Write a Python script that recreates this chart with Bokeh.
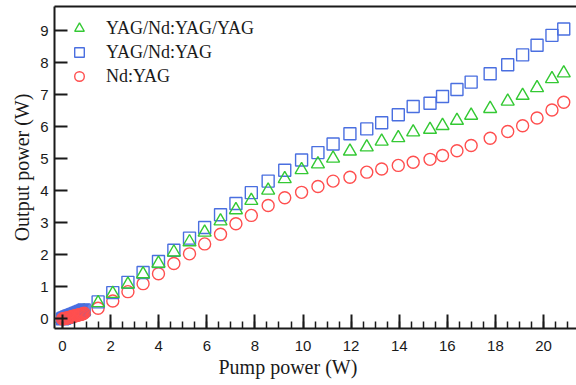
from bokeh.plotting import figure
from bokeh.models import (Range1d, FixedTicker, LinearAxis, Legend, LegendItem, Title)
from bokeh.embed import file_html
from bokeh.resources import INLINE

# Pump power (W) for the main points (shared by the three series)
pump = [1.48, 2.09, 2.72, 3.35, 3.99, 4.63, 5.28, 5.91, 6.57, 7.21, 7.85, 8.55,
        9.24, 9.94, 10.62, 11.25, 11.95, 12.65, 13.27, 13.96, 14.58, 15.28,
        15.80, 16.40, 16.99, 17.78, 18.51, 19.13, 19.73, 20.35, 20.84]

yag_nd_yag = [0.53, 0.82, 1.14, 1.45, 1.79, 2.14, 2.52, 2.85, 3.25, 3.60, 3.94, 4.30,
              4.64, 4.96, 5.19, 5.46, 5.78, 5.93, 6.12, 6.37, 6.63, 6.73,
              6.94, 7.16, 7.39, 7.65, 7.93, 8.24, 8.54, 8.85, 9.05]

yag_nd_yag_yag = [0.50, 0.79, 1.08, 1.40, 1.73, 2.08, 2.40, 2.70, 3.05, 3.40, 3.69, 4.01,
                  4.37, 4.65, 4.83, 5.01, 5.23, 5.36, 5.54, 5.65, 5.83, 5.91,
                  6.03, 6.19, 6.35, 6.56, 6.79, 6.97, 7.21, 7.49, 7.67]

nd_yag = [0.33, 0.56, 0.85, 1.10, 1.41, 1.73, 2.03, 2.34, 2.64, 2.97, 3.23, 3.54,
          3.78, 3.95, 4.13, 4.30, 4.42, 4.58, 4.68, 4.79, 4.89, 4.98,
          5.10, 5.25, 5.41, 5.64, 5.85, 6.03, 6.27, 6.52, 6.76]

# Dense low-power cluster near threshold
pump_low = [0.00, 0.05, 0.10, 0.15, 0.20, 0.25, 0.30, 0.35, 0.40, 0.45, 0.50,
            0.55, 0.60, 0.65, 0.70, 0.75, 0.80, 0.85, 0.90]
low_yag_nd_yag = [0.00, 0.02, 0.03, 0.05, 0.06, 0.08, 0.09, 0.11, 0.12, 0.14, 0.15,
                  0.17, 0.18, 0.20, 0.21, 0.23, 0.24, 0.26, 0.28]
low_yag_nd_yag_yag = [0.00, 0.01, 0.02, 0.03, 0.05, 0.06, 0.07, 0.09, 0.10, 0.11, 0.13,
                      0.14, 0.15, 0.17, 0.18, 0.20, 0.21, 0.23, 0.24]
low_nd_yag = [0.00, 0.01, 0.01, 0.02, 0.03, 0.04, 0.05, 0.06, 0.07, 0.08, 0.09,
              0.10, 0.11, 0.12, 0.13, 0.14, 0.15, 0.16, 0.18]

x_ticks = [0, 2, 4, 6, 8, 10, 12, 14, 16, 18, 20]
y_ticks = [0, 1, 2, 3, 4, 5, 6, 7, 8, 9]

GREEN = "#34c934"
BLUE = "#4a6fe0"
RED = "#ff4f4f"
AX = "#1a1a1a"

p = figure(width=576, height=385, output_backend="svg", toolbar_location=None,
           x_range=Range1d(-0.333, 21.37), y_range=Range1d(-0.30, 9.75),
           min_border_left=54, min_border_right=0, min_border_top=6, min_border_bottom=57,
           x_axis_type=None, y_axis_type=None)
p.outline_line_color = None
p.grid.visible = False
p.background_fill_color = "white"
p.border_fill_color = "white"

xaxis = LinearAxis(ticker=FixedTicker(ticks=x_ticks,
                                      minor_ticks=[i * 0.5 for i in range(0, 43)]))
xaxis.axis_line_width = 2
xaxis.axis_line_color = AX
xaxis.major_tick_in = 14
xaxis.major_tick_out = 0
xaxis.minor_tick_in = 7
xaxis.minor_tick_out = 0
xaxis.major_tick_line_width = 2
xaxis.minor_tick_line_width = 1.5
xaxis.major_tick_line_color = AX
xaxis.minor_tick_line_color = AX
xaxis.major_label_text_font = "Liberation Sans"
xaxis.major_label_text_font_size = "15px"
xaxis.major_label_text_color = AX
xaxis.major_label_standoff = 12
p.add_layout(xaxis, "below")

yaxis = LinearAxis(ticker=FixedTicker(ticks=y_ticks))
yaxis.axis_line_width = 2
yaxis.axis_line_color = AX
yaxis.major_tick_in = 13
yaxis.major_tick_out = 0
yaxis.minor_tick_in = 0
yaxis.minor_tick_out = 0
yaxis.major_tick_line_width = 2
yaxis.major_tick_line_color = AX
yaxis.major_label_text_font = "Liberation Sans"
yaxis.major_label_text_font_size = "15px"
yaxis.major_label_text_color = AX
yaxis.major_label_standoff = 6
yaxis.axis_label = "Output power (W)"
yaxis.axis_label_text_font = "Liberation Serif"
yaxis.axis_label_text_font_style = "normal"
yaxis.axis_label_text_font_size = "20px"
yaxis.axis_label_text_color = AX
yaxis.axis_label_standoff = 4
p.add_layout(yaxis, "left")

top = LinearAxis(ticker=FixedTicker(ticks=[]))
top.axis_line_width = 2
top.axis_line_color = AX
top.major_tick_in = 0
top.major_tick_out = 0
top.minor_tick_in = 0
top.minor_tick_out = 0
top.major_label_text_font_size = "0px"
p.add_layout(top, "above")

xt = Title(text="Pump power (W)", align="left", offset=164, standoff=0,
           text_font="Liberation Serif", text_font_size="20px",
           text_font_style="normal", text_color=AX)
p.add_layout(xt, "below")

# low-power cluster (drawn first, red on top as in the reference)
p.scatter(pump_low, low_yag_nd_yag_yag, marker="triangle", size=13, fill_color=None,
          line_color=GREEN, line_width=1.4)
p.scatter(pump_low, low_yag_nd_yag, marker="square", size=12, fill_color=None,
          line_color=BLUE, line_width=1.4)
p.scatter(pump_low, low_nd_yag, marker="circle", size=12, fill_color=None,
          line_color=RED, line_width=1.4)

r_ci = p.scatter(pump, nd_yag, marker="circle", size=12, fill_color=None,
                 line_color=RED, line_width=1.4)
r_sq = p.scatter(pump, yag_nd_yag, marker="square", size=12, fill_color=None,
                 line_color=BLUE, line_width=1.4)
r_tr = p.scatter(pump, yag_nd_yag_yag, marker="triangle", size=13, fill_color=None,
                 line_color=GREEN, line_width=1.4)

legend = Legend(items=[LegendItem(label="YAG/Nd:YAG/YAG", renderers=[r_tr]),
                       LegendItem(label="YAG/Nd:YAG", renderers=[r_sq]),
                       LegendItem(label="Nd:YAG", renderers=[r_ci])],
                location="top_left")
legend.margin = 10
legend.padding = 11
legend.spacing = 0
legend.glyph_width = 30
legend.glyph_height = 24
legend.label_height = 24
legend.label_standoff = 12
legend.label_text_font = "Liberation Serif"
legend.label_text_font_size = "18px"
legend.label_text_color = AX
legend.border_line_color = None
legend.background_fill_alpha = 0
p.add_layout(legend)

open("out.html", "w").write(file_html(p, INLINE))
